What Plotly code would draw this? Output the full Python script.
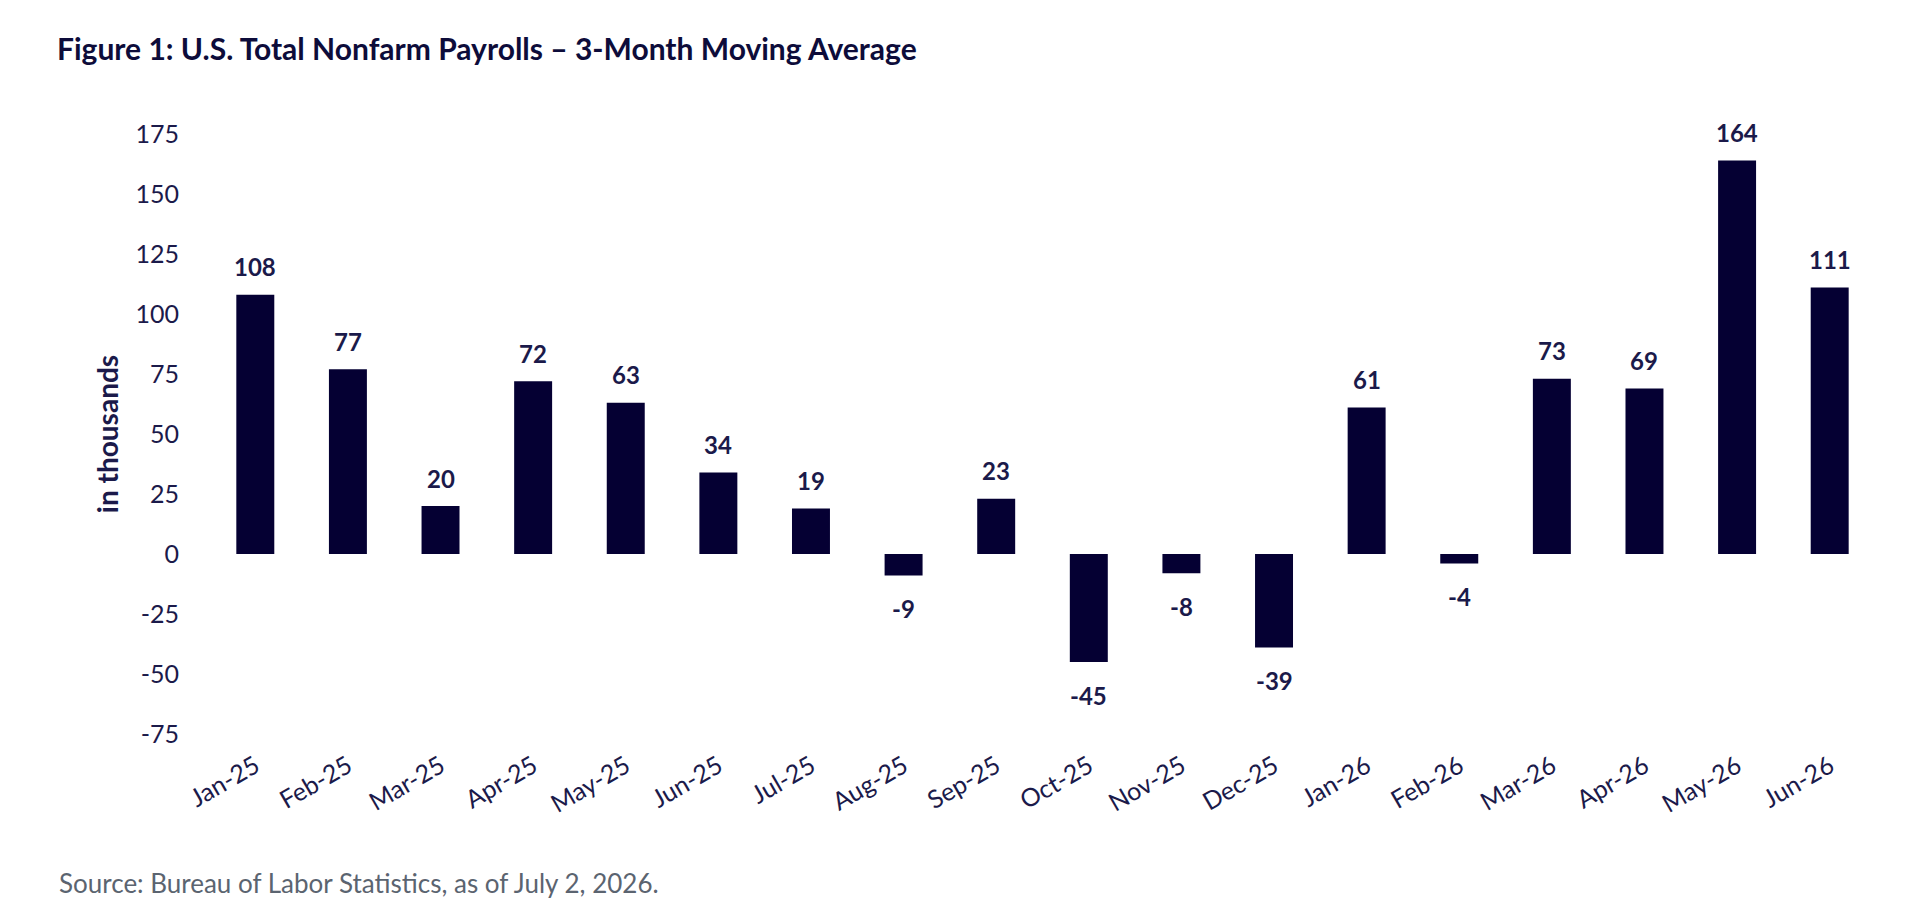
import plotly.graph_objects as go

months = ["Jan-25", "Feb-25", "Mar-25", "Apr-25", "May-25", "Jun-25", "Jul-25", "Aug-25", "Sep-25",
          "Oct-25", "Nov-25", "Dec-25", "Jan-26", "Feb-26", "Mar-26", "Apr-26", "May-26", "Jun-26"]
payrolls = [108, 77, 20, 72, 63, 34, 19, -9, 23, -45, -8, -39, 61, -4, 73, 69, 164, 111]
y_ticks = [-75, -50, -25, 0, 25, 50, 75, 100, 125, 150, 175]

BAR = "#050033"
TXT = "#1b1a4a"
FONT = "Lato"

W, H = 1918, 922
L, R, T, B = 209, 42, 122, 176

fig = go.Figure()
fig.add_trace(go.Bar(x=months, y=payrolls, marker=dict(color=BAR, line=dict(width=0)),
                     width=0.41, hoverinfo="x+y"))

for m, v in zip(months, payrolls):
    fig.add_annotation(x=m, y=v, text=f"<b>{v}</b>", showarrow=False,
                       yanchor="middle", yshift=28 if v >= 0 else -33,
                       font=dict(family=FONT, size=24, color=TXT))

pw = W - L - R
ph = H - T - B
fig.add_annotation(xref="paper", yref="paper", x=(57 - L) / pw, y=(H - B - 883) / ph,
                   xanchor="left", yanchor="middle", showarrow=False,
                   text="Source: Bureau of Labor Statistics, as of July 2, 2026.",
                   font=dict(family=FONT, size=26, color="#5b6470"))

fig.update_layout(
    width=W, height=H,
    margin=dict(l=L, r=R, t=T, b=B, pad=0),
    plot_bgcolor="white", paper_bgcolor="white",
    showlegend=False,
    title=dict(text="<b>Figure 1: U.S. Total Nonfarm Payrolls – 3-Month Moving Average</b>",
               xref="container", yref="container", x=57 / W, xanchor="left",
               y=1 - 49 / H, yanchor="middle",
               font=dict(family=FONT, size=30, color="#0d0c3a")),
    xaxis=dict(type="category", range=[-0.5, 17.5], showgrid=False, zeroline=False,
               showline=False, ticks="", tickangle=-30,
               tickfont=dict(family=FONT, size=25, color=TXT)),
    yaxis=dict(range=[-80, 180], tickvals=y_ticks, ticktext=[str(t) for t in y_ticks],
               showgrid=False, zeroline=False,
               showline=False, ticks="", ticklabelstandoff=29,
               tickfont=dict(family=FONT, size=25, color=TXT),
               title=dict(text="<b>in thousands</b>", standoff=8,
                          font=dict(family=FONT, size=28, color=TXT))),
)

fig.write_html("out.html")
